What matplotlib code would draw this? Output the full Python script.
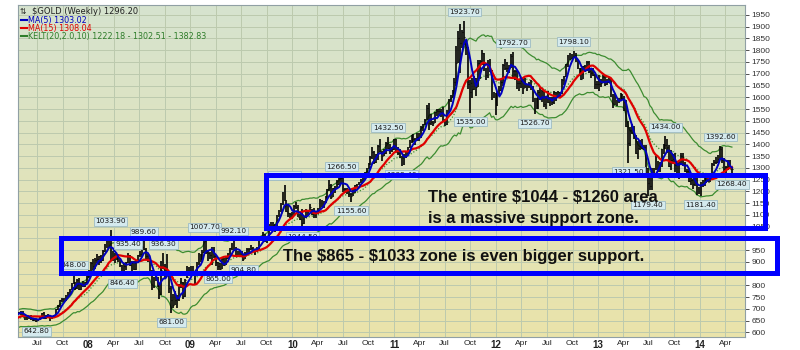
import numpy as np
import pandas as pd
import matplotlib
matplotlib.use("Agg")
import matplotlib.pyplot as plt
import matplotlib.dates as mdates
from matplotlib.patches import Rectangle
from matplotlib.lines import Line2D

# weekly $GOLD bars, Fridays from 2006-12-08 to 2014-04-25 (first weeks only warm up the indicators)
closes = [
    628, 628, 621, 632,
    # 2007
    609, 626, 631, 645, 656, 666, 665, 686, 645, 652, 655, 664, 663, 678, 690, 683, 680, 686, 668, 662, 657, 666,
    653, 655, 657, 650, 655, 666, 681, 662, 672, 674, 663, 667, 673, 698, 711, 737, 743, 736, 755, 765, 784, 806,
    834, 787, 823, 783, 803, 795, 812, 840,
    # 2008
    860, 896, 880, 909, 912, 923, 906, 948, 972, 972, 1001, 920, 930, 905, 925, 916, 885, 853, 884, 898, 927, 887,
    900, 870, 903, 929, 932, 964, 956, 925, 913, 864, 787, 828, 833, 797, 765, 865, 884, 834, 857, 787, 736, 718,
    737, 741, 799, 815, 753, 822, 836, 873,
    # 2009
    878, 853, 839, 895, 928, 913, 941, 1002, 942, 939, 930, 953, 924, 898, 881, 870, 912, 886, 915, 929, 958, 979,
    961, 937, 933, 940, 929, 912, 938, 953, 954, 957, 948, 953, 955, 996, 1007, 1010, 991, 1003, 1049, 1053, 1057,
    1046, 1096, 1117, 1148, 1176, 1162, 1118, 1109, 1104,
    # 2010
    1096, 1138, 1131, 1092, 1083, 1067, 1094, 1120, 1118, 1134, 1103, 1107, 1105, 1126, 1161, 1136, 1156, 1180,
    1209, 1227, 1177, 1214, 1216, 1229, 1256, 1256, 1208, 1210, 1211, 1189, 1181, 1203, 1226, 1227, 1237, 1248,
    1246, 1276, 1297, 1318, 1345, 1369, 1326, 1359, 1394, 1366, 1352, 1363, 1406, 1385, 1376, 1380, 1421,
    # 2011
    1369, 1361, 1343, 1319, 1349, 1360, 1388, 1409, 1430, 1421, 1418, 1431, 1429, 1474, 1486, 1504, 1556, 1491,
    1493, 1492, 1536, 1542, 1543, 1539, 1501, 1486, 1542, 1591, 1602, 1628, 1663, 1745, 1852, 1829, 1876, 1856,
    1813, 1657, 1622, 1635, 1682, 1642, 1746, 1754, 1788, 1724, 1685, 1747, 1713, 1597, 1606, 1566,
    # 2012
    1617, 1631, 1666, 1738, 1725, 1725, 1725, 1776, 1710, 1711, 1659, 1662, 1669, 1641, 1659, 1642, 1663, 1645,
    1580, 1592, 1573, 1622, 1591, 1627, 1572, 1604, 1579, 1591, 1580, 1622, 1606, 1621, 1616, 1672, 1692, 1740,
    1770, 1774, 1775, 1781, 1758, 1724, 1713, 1677, 1731, 1715, 1752, 1712, 1702, 1696, 1657, 1657,
    # 2013
    1656, 1662, 1687, 1658, 1667, 1667, 1609, 1573, 1576, 1577, 1592, 1608, 1596, 1581, 1477, 1404, 1462, 1469,
    1434, 1364, 1386, 1393, 1383, 1387, 1298, 1234, 1223, 1277, 1295, 1322, 1311, 1313, 1375, 1396, 1396, 1387,
    1308, 1333, 1337, 1310, 1272, 1315, 1352, 1314, 1285, 1288, 1244, 1250, 1231, 1235, 1203, 1214,
    # 2014
    1237, 1247, 1254, 1264, 1240, 1263, 1318, 1323, 1326, 1338, 1379, 1335, 1294, 1303, 1318, 1293, 1296.2,
]
highs = [
    648, 632, 630, 636,
    638, 628, 633, 647, 658, 668, 670, 688, 690, 656, 660, 668, 669, 680, 692, 693, 688, 690, 689, 672, 668, 668,
    672, 659, 662, 658, 658, 667, 684, 685, 674, 679, 675, 670, 675, 700, 718, 739, 747, 745, 757, 770, 786, 808,
    848, 815, 826, 829, 807, 817, 815, 842,
    866, 901, 913, 917, 932, 925, 930, 952, 976, 990, 1005, 1033.9, 945, 937, 935, 934, 918, 887, 890, 900, 935.4,
    930, 905, 905, 906, 930, 945, 968, 989.6, 960, 931, 915, 866, 837, 845, 836, 800, 905, 936.3, 890, 932, 860,
    796, 764, 774, 757, 804, 830, 815, 827, 884, 876,
    882, 883, 862, 900, 937, 931, 950, 1007.7, 1003, 947, 943, 962, 961, 928, 898, 895, 915, 915, 919, 938, 960,
    980, 992.1, 965, 945, 948, 946, 930, 940, 960, 960, 972, 963, 955, 963, 1000, 1010, 1025, 1018, 1010, 1062,
    1071, 1070, 1062, 1101, 1120, 1150, 1195, 1227.5, 1163, 1140, 1109,
    1112, 1140, 1153, 1140, 1104, 1123, 1096, 1123, 1122, 1145, 1126, 1130, 1111, 1130, 1166, 1164, 1159, 1181,
    1210, 1249, 1230, 1216, 1222, 1250, 1262, 1266.5, 1262, 1214, 1213, 1210, 1192, 1210, 1226, 1233, 1241, 1254,
    1258, 1281, 1300, 1320, 1349, 1387, 1372, 1360, 1398, 1424, 1370, 1380, 1410, 1432.5, 1400, 1390, 1424,
    1422, 1390, 1379, 1348, 1360, 1367, 1389, 1419, 1440, 1445, 1428, 1448, 1447, 1476, 1487, 1509, 1569, 1577,
    1530, 1500, 1537, 1549, 1551, 1551, 1557, 1508, 1544, 1594, 1610, 1632, 1684, 1817, 1881, 1913, 1885, 1923.7,
    1838, 1812, 1673, 1680, 1692, 1684, 1758, 1760, 1802, 1789, 1726, 1760, 1763, 1717, 1621, 1620,
    1626, 1649, 1675, 1740, 1764, 1750, 1738, 1782, 1792.7, 1716, 1714, 1672, 1678, 1679, 1680, 1658, 1667, 1672,
    1647, 1596, 1597, 1629, 1640, 1630, 1628, 1606, 1627, 1600, 1599, 1627, 1624, 1626, 1624, 1677, 1692, 1742,
    1778, 1789, 1785, 1798.1, 1790, 1760, 1725, 1723, 1734, 1738, 1754, 1755, 1722, 1724, 1699, 1670,
    1693, 1679, 1694, 1696, 1679, 1683, 1678, 1615, 1619, 1590, 1597, 1616, 1615, 1605, 1589, 1499, 1474, 1488,
    1476, 1440, 1416, 1420, 1423, 1398, 1398, 1300, 1268, 1298, 1299, 1348, 1330, 1324, 1380, 1400, 1434, 1421,
    1395, 1375, 1358, 1361, 1329, 1328, 1361, 1361, 1325, 1294, 1295, 1264, 1251, 1267, 1258, 1217,
    1238, 1250, 1256, 1270, 1268, 1274, 1320, 1332, 1345, 1355, 1392.6, 1389, 1341, 1308, 1331, 1331, 1305,
]
lows = [
    622, 618, 615, 618,
    602, 605, 620, 628, 644, 653, 659, 662, 637, 640, 645, 652, 657, 660, 676, 677, 676, 675, 664, 654, 651, 655,
    651, 648, 650, 642.8, 648, 652, 664, 657, 658, 662, 650, 658, 661, 672, 695, 707, 727, 729, 732, 752, 759, 782,
    805, 781, 784, 779, 780, 791, 792, 809,
    832, 855, 863, 869, 895, 886, 893, 902, 940, 960, 962, 908, 905, 894, 906, 900, 876, 846.4, 851, 865, 893, 882,
    860, 864, 863, 898, 920, 920, 950, 912, 900, 858, 781, 790, 820, 793, 740, 760, 870, 826, 845, 768, 681, 705,
    715, 705, 732, 790, 740, 752, 833, 838,
    860, 846, 806, 839, 886, 897, 906, 936, 935, 903, 912, 885, 917, 880, 865, 865.5, 870, 880, 885, 912, 925, 950,
    945, 927, 925, 922, 925, 904.8, 910, 935, 932, 950, 940, 930, 943, 952, 990, 1000, 985, 980, 1003, 1040, 1045,
    1026, 1046, 1090, 1112, 1140, 1159, 1110, 1090, 1087,
    1083, 1096, 1124, 1090, 1076, 1044.5, 1060, 1088, 1095, 1113, 1100, 1088, 1088, 1103, 1125, 1133, 1128, 1152,
    1163, 1200, 1166, 1176, 1192, 1214, 1226, 1230, 1196, 1191, 1190, 1177, 1155.6, 1180, 1193, 1217, 1225, 1237,
    1240, 1246, 1270, 1293, 1310, 1337, 1315, 1321, 1332, 1365, 1330, 1348, 1360, 1379, 1360, 1369, 1377,
    1365, 1355, 1340, 1309.4, 1313, 1342, 1356, 1383, 1406, 1411, 1397, 1413, 1416, 1428, 1455, 1484, 1504, 1462,
    1481, 1478, 1490, 1522, 1526, 1516, 1498, 1478, 1483, 1535, 1580, 1595, 1613, 1650, 1745, 1705, 1811, 1822,
    1780, 1634, 1535, 1595, 1630, 1605, 1642, 1678, 1736, 1711, 1672, 1680, 1706, 1587, 1595, 1523,
    1563, 1604, 1626, 1650, 1715, 1707, 1705, 1724, 1688, 1672, 1635, 1627, 1640, 1615, 1640, 1627, 1640, 1631,
    1578, 1526.7, 1552, 1548, 1588, 1580, 1559, 1551, 1574, 1564, 1567, 1572, 1583, 1598, 1602, 1614, 1652, 1686,
    1730, 1757, 1761, 1767, 1752, 1721, 1696, 1672, 1677, 1706, 1713, 1704, 1684, 1691, 1635, 1636,
    1625, 1644, 1659, 1650, 1651, 1660, 1603, 1554, 1566, 1562, 1576, 1590, 1590, 1540, 1473, 1321.5, 1393, 1445,
    1423, 1359, 1339, 1375, 1381, 1375, 1269, 1179.4, 1207, 1207, 1270, 1290, 1284, 1281, 1305, 1357, 1378, 1363,
    1303, 1292, 1318, 1280, 1264, 1251, 1313, 1307, 1281, 1266, 1240, 1225, 1211, 1224, 1185, 1187,
    1181.4, 1219, 1224, 1235, 1238, 1239, 1259, 1308, 1317, 1322, 1336, 1320, 1283, 1277, 1290, 1293, 1268.4,
]

# swing labels on the chart
peak_dates = ["2007-06-29", "2007-11-09", "2008-03-21", "2008-05-23", "2008-05-02", "2008-07-18", "2008-09-26",
              "2008-10-24", "2009-02-20", "2009-04-10", "2009-06-05", "2009-07-10", "2009-12-04", "2010-02-05",
              "2010-06-25", "2010-07-30", "2010-12-10", "2011-01-28", "2011-09-09", "2011-09-30", "2012-03-02",
              "2012-05-18", "2012-10-05", "2013-04-19", "2013-06-28", "2013-08-30", "2014-01-03", "2014-03-14",
              "2014-04-25"]
peak_vals = [642.80, 848.00, 1033.90, 935.40, 846.40, 989.60, 936.30, 681.00, 1007.70, 865.00, 992.10, 904.80,
             1227.50, 1044.50, 1266.50, 1155.60, 1432.50, 1309.40, 1923.70, 1535.00, 1792.70, 1526.70, 1798.10,
             1321.50, 1179.40, 1434.00, 1181.40, 1392.60, 1268.40]
peak_side = ["L", "H", "H", "H", "L", "H", "H", "L", "H", "L", "H", "L", "H", "L", "H", "L", "H", "L", "H", "L",
             "H", "L", "H", "L", "L", "H", "L", "H", "L"]

legend_lines = [r"\$GOLD (Weekly) 1296.20", "MA(5) 1303.02", "MA(15) 1308.04",
                "KELT(20,2.0,10) 1222.18 - 1302.51 - 1382.83"]
box_text_1 = [r"The entire \$1044 - \$1260 area", "is a massive support zone."]
box_text_2 = r"The \$865 - \$1033 zone is even bigger support."

df = pd.DataFrame({"close": closes, "high": highs, "low": lows},
                  index=pd.date_range("2006-12-08", periods=len(closes), freq="W-FRI"))

# indicators
df["ma5"] = df["close"].rolling(5, min_periods=1).mean()
df["ma15"] = df["close"].rolling(15, min_periods=1).mean()
prev = df["close"].shift(1).fillna(df["close"])
tr = pd.concat([df["high"] - df["low"], (df["high"] - prev).abs(), (df["low"] - prev).abs()], axis=1).max(axis=1)
atr = tr.ewm(alpha=1 / 10, adjust=False).mean()
mid = df["close"].ewm(span=20, adjust=False).mean()
df["kmid"] = mid
df["kup"] = mid + 2 * atr
df["klo"] = mid - 2 * atr

W, H = 800, 350
fig = plt.figure(figsize=(8, 3.5), dpi=100)
fig.patch.set_facecolor("white")
ax = fig.add_axes([18 / W, 1 - 337 / H, (745 - 18) / W, (337 - 5) / H])

# background gradient, green-grey at the top to pale khaki at the bottom
top = np.array([214, 227, 207]) / 255
bot = np.array([234, 228, 170]) / 255
t = np.linspace(0, 1, 256)[:, None]
grad = (top * (1 - t) + bot * t)[:, None, :]
ax.imshow(grad, extent=[0, 1, 0, 1], transform=ax.transAxes, aspect="auto", zorder=0)

x = mdates.date2num(df.index.to_pydatetime())
ax.plot(x, df["kup"], color="#3c8c30", lw=0.9, zorder=2)
ax.plot(x, df["klo"], color="#3c8c30", lw=0.9, zorder=2)
ax.plot(x, df["kmid"], color="#3c8c30", lw=0.9, ls=(0, (1, 1.5)), zorder=2)
ax.vlines(x, df["low"], df["high"], color="black", lw=1.2, zorder=3)
ax.hlines(df["close"], x, x + 2.5, color="black", lw=0.8, zorder=3)
ax.plot(x, df["ma15"], color="#e00000", lw=1.6, zorder=4)
ax.plot(x, df["ma5"], color="#0000c0", lw=1.4, zorder=5)

for d, v, s in zip(peak_dates, peak_vals, peak_side):
    off = 9 if s == "H" else -9
    ax.annotate("%.2f" % v, xy=(mdates.datestr2num(d), v), xytext=(0, off), textcoords="offset pixels",
                ha="center", va="center", fontsize=5.3, family="DejaVu Sans", color="#1a1a1a",
                bbox=dict(boxstyle="square,pad=0.18", fc="#d5eaee", ec="#9dbcc4", lw=0.6), zorder=7)

x0 = mdates.datestr2num("2008-01-01") - 252
x1 = mdates.datestr2num("2008-01-01") + 2353
ax.set_xlim(x0, x1)
ax.set_ylim(580, 1992.5)

ticks = pd.date_range("2007-07-01", "2014-04-01", freq="QS-JAN")
ax.set_xticks(mdates.date2num(ticks.to_pydatetime()))
ax.set_xticklabels(["%02d" % (d.year % 100) if d.month == 1 else d.strftime("%b") for d in ticks])
for lab, d in zip(ax.get_xticklabels(), ticks):
    lab.set_family("Liberation Sans")
    if d.month == 1:
        lab.set_fontweight("bold")
        lab.set_fontsize(7)
    else:
        lab.set_fontsize(6)
ax.tick_params(axis="x", length=0, pad=2.5, colors="#222222")

ax.yaxis.tick_right()
ax.set_yticks(np.arange(600, 1951, 50))
ax.tick_params(axis="y", length=3, width=0.6, pad=1.5, labelsize=6, colors="#333333")
for lab in ax.get_yticklabels():
    lab.set_family("Liberation Sans")

ax.grid(True, color="#bccaae", lw=0.7, zorder=1)
ax.set_axisbelow(True)
for sp in ax.spines.values():
    sp.set_color("#90a0a4")
    sp.set_linewidth(0.8)

# legend block (positions in axes pixels from the top-left corner)
ax.text(2 / 727, 1 - 7 / 332, "⇅", transform=ax.transAxes, fontsize=5.5, va="center", ha="left",
        color="#222222", family="DejaVu Sans")
ax.text(14 / 727, 1 - 7 / 332, legend_lines[0], transform=ax.transAxes, fontsize=6, va="center", ha="left",
        color="#222222", family="DejaVu Sans")
leg_cols = ["#0000c0", "#e00000", "#2e7d2a"]
for i, (txt, c) in enumerate(zip(legend_lines[1:], leg_cols)):
    yy = 1 - (15 + 8 * i) / 332
    ax.add_line(Line2D([3 / 727, 9 / 727], [yy, yy], transform=ax.transAxes, color=c, lw=1.5))
    ax.text(10 / 727, yy, txt, transform=ax.transAxes, fontsize=5.8, va="center", ha="left", color=c,
            family="DejaVu Sans")

# blue annotation boxes
fig.add_artist(Rectangle((266 / W, 1 - 228 / H), (765 - 266) / W, (228 - 175) / H, transform=fig.transFigure,
                         fill=False, ec="#0000ff", lw=3.6, zorder=10))
fig.add_artist(Rectangle((61 / W, 1 - 273 / H), (777 - 61) / W, (273 - 238) / H, transform=fig.transFigure,
                         fill=False, ec="#0000ff", lw=3.6, zorder=10))
fig.text(428 / W, 1 - 197 / H, box_text_1[0], fontsize=12, fontweight="bold", family="Liberation Sans",
         va="center", ha="left", color="#111111", zorder=11)
fig.text(428 / W, 1 - 219 / H, box_text_1[1], fontsize=12, fontweight="bold", family="Liberation Sans",
         va="center", ha="left", color="#111111", zorder=11)
fig.text(283 / W, 1 - 257 / H, box_text_2, fontsize=12, fontweight="bold", family="Liberation Sans",
         va="center", ha="left", color="#111111", zorder=11)

fig.savefig("out.png", dpi=100)
